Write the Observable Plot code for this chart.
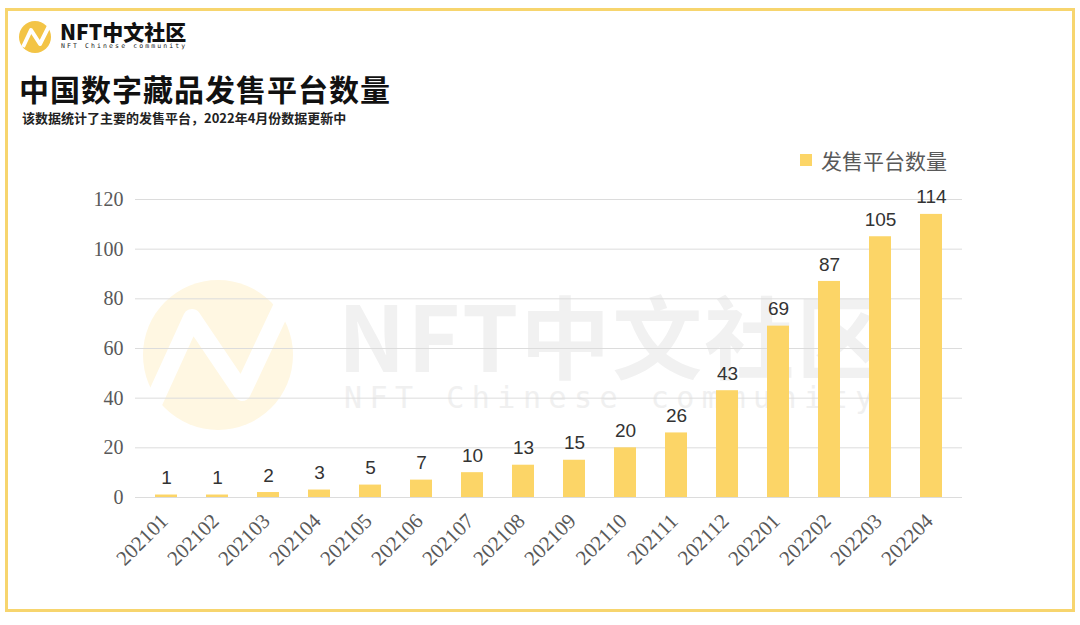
<!DOCTYPE html>
<html><head><meta charset="utf-8">
<script src="https://cdn.jsdelivr.net/npm/d3@7"></script>
<script src="https://cdn.jsdelivr.net/npm/@observablehq/plot@0.6"></script>
<style>
html,body{margin:0;padding:0;background:#fff;width:1080px;height:625px;overflow:hidden;font-family:"Noto Sans CJK SC","Noto Sans",sans-serif;}
#frame{position:absolute;left:5px;top:8px;width:1064px;height:598px;border:3px solid #F7D56E;}
.abs{position:absolute;white-space:nowrap;}
#chart{position:absolute;left:0;top:140px;}
#chart g[aria-label="y-axis tick label"] text,
#chart g[aria-label="x-axis tick label"] text{font-family:"Liberation Serif","DejaVu Serif",serif !important;}
#chart g[aria-label="y-axis tick label"],
#chart g[aria-label="x-axis tick label"]{font-family:"Liberation Serif","DejaVu Serif",serif !important;}
#chart g[aria-label="text"]{font-family:"Liberation Sans",Arial,sans-serif !important;}
</style></head><body>
<div id="frame"></div>
<!-- watermark -->
<svg class="abs" style="left:130px;top:270px" width="180" height="170">
  <circle cx="88" cy="85" r="75" fill="#FFF7E2"/>
  <polyline points="20,140 62,48 112,122 160,20" fill="none" stroke="#fff" stroke-width="18" stroke-linejoin="round"/>
</svg>
<div class="abs" style="left:338px;top:268px;font-size:90px;font-weight:700;color:#F1F1F1;font-family:'Noto Sans CJK SC';letter-spacing:2px;">NFT中文社区</div>
<div class="abs" style="left:344px;top:380px;font-size:30px;color:#F0F0F0;font-family:'DejaVu Sans Mono';letter-spacing:7.5px;">NFT Chinese community</div>
<!-- logo -->
<svg class="abs" style="left:18px;top:20px" width="36" height="36">
  <circle cx="17" cy="17" r="16" fill="#F3C446"/>
  <polyline points="5,27 13,10 22,24 32,4" fill="none" stroke="#fff" stroke-width="4" stroke-linejoin="round"/>
</svg>
<div class="abs" style="left:60px;top:19px;font-size:21px;font-weight:900;color:#111;line-height:24px;">NFT中文社区</div>
<div class="abs" style="left:61px;top:42px;font-size:6.5px;color:#222;letter-spacing:2.1px;font-family:'DejaVu Sans Mono';line-height:8px;">NFT Chinese community</div>
<div class="abs" style="left:19px;top:68px;font-size:30px;font-weight:700;color:#111;line-height:40px;letter-spacing:1px;">中国数字藏品发售平台数量</div>
<div class="abs" style="left:22px;top:109px;font-size:13px;font-weight:700;color:#222;line-height:18px;">该数据统计了主要的发售平台，2022年4月份数据更新中</div>
<!-- legend -->
<div class="abs" style="left:800px;top:154px;width:12px;height:12px;background:#FCD567;"></div>
<div class="abs" style="left:821px;top:145px;font-size:21px;color:#595959;line-height:30px;">发售平台数量</div>
<div id="chart"></div>
<script>
const months = ["202101","202102","202103","202104","202105","202106","202107","202108","202109","202110","202111","202112","202201","202202","202203","202204"];
const counts = [1,1,2,3,5,7,10,13,15,20,26,43,69,87,105,114];
const yTicks = [0,20,40,60,80,100,120];
const seriesName = "发售平台数量";
const data = months.map((m,i)=>({month:m, count:counts[i]}));

const chart = Plot.plot({
  width:1080, height:460,
  marginLeft:135, marginRight:118, marginTop:59, marginBottom:103,
  style:{background:"transparent", overflow:"visible"},
  x:{domain:months, paddingInner:0.575, paddingOuter:0.2875, label:null},
  y:{domain:[0,120], ticks:yTicks, label:null},
  marks:[
    Plot.ruleY(yTicks, {stroke:"#DCDCDC", strokeWidth:1}),
    Plot.barY(data, {x:"month", y:"count", fill:"#FCD567"}),
    Plot.text(data, {x:"month", y:"count", text:d=>String(d.count), dy:-17, fontSize:19, fill:"#333"}),
    Plot.axisY({ticks:yTicks, tickSize:0, tickPadding:12, fontSize:20, fill:"#595959", label:null}),
    Plot.axisX({tickSize:0, tickRotate:-45, tickPadding:20, dx:-2, fontSize:21, fill:"#595959", label:null})
  ]
});
document.getElementById("chart").appendChild(chart);
</script>
</body></html>
